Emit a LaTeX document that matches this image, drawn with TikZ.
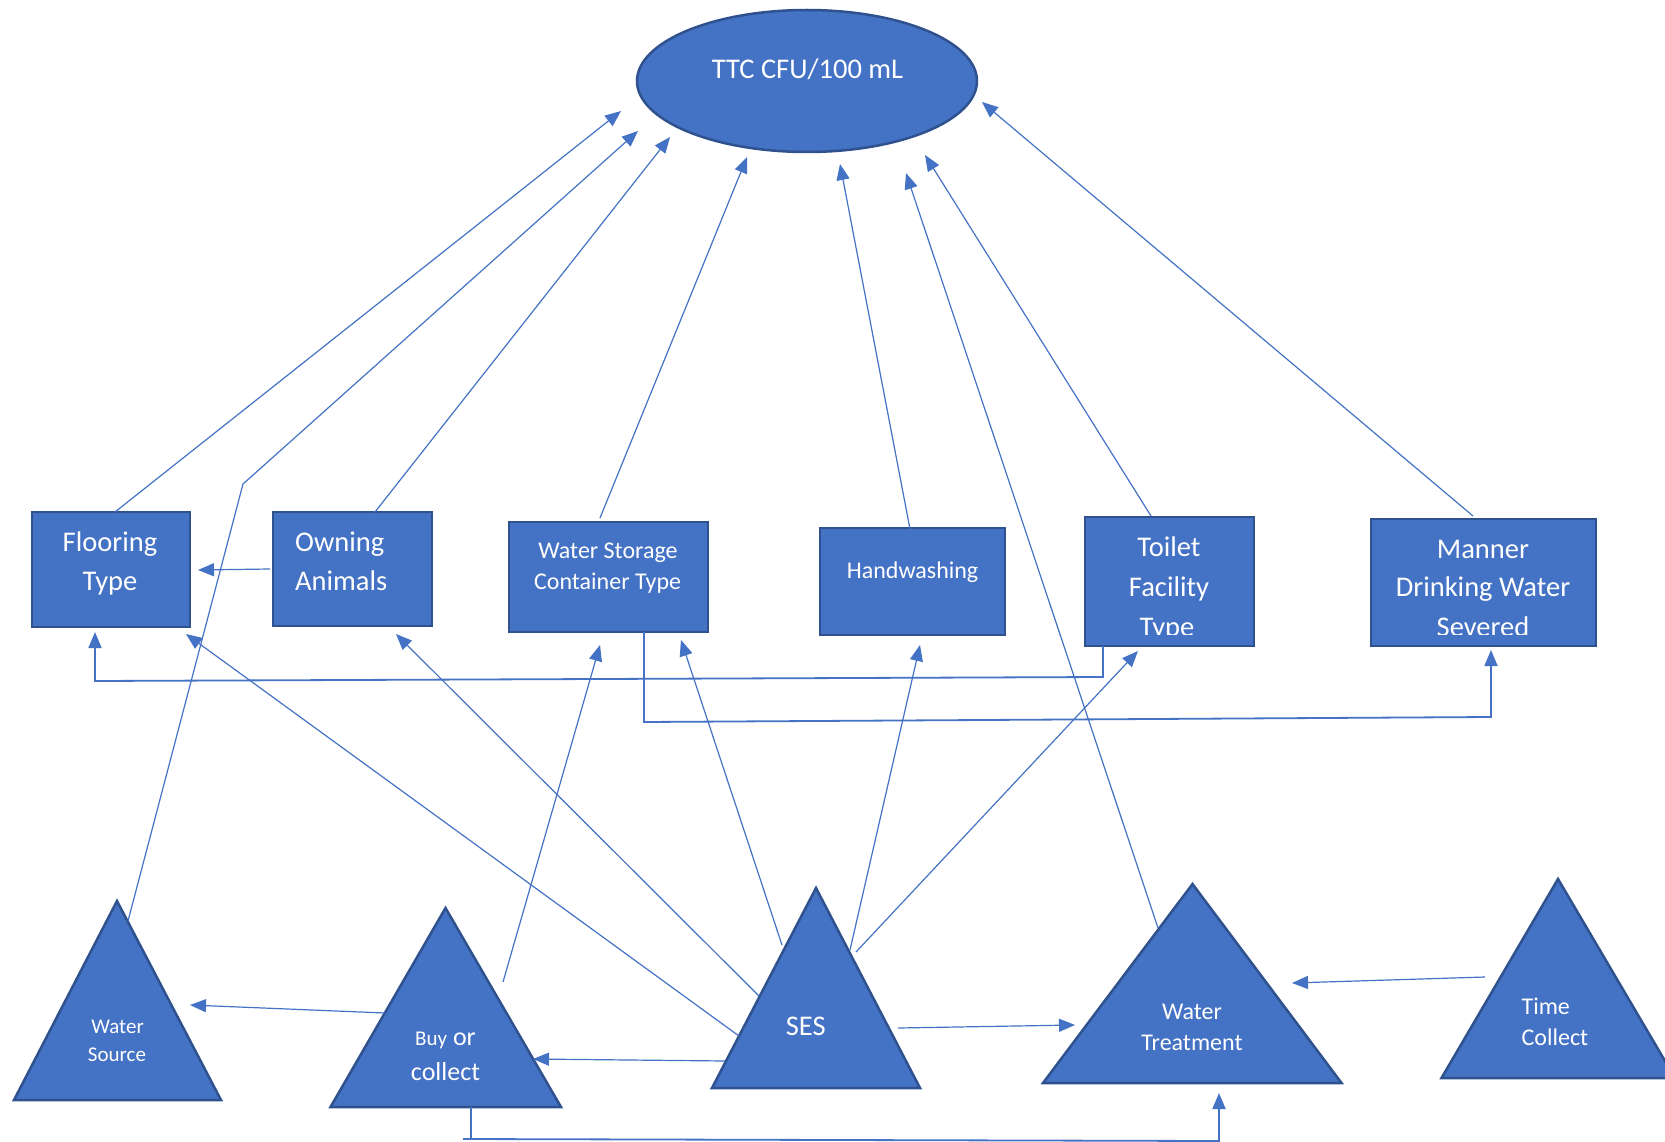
\documentclass[tikz,border=0pt]{standalone}
\usepackage{fontspec}
\setmainfont{Carlito}
\usetikzlibrary{arrows.meta,shapes.geometric}
\definecolor{obl}{HTML}{4472C4}
\definecolor{obd}{HTML}{2F528F}
\begin{document}
\begin{tikzpicture}[x=1pt,y=-1pt,
  box/.style={draw=obd,line width=2.5pt,fill=obl,inner sep=0pt,outer sep=0pt},
  tri/.style={draw=obd,line width=2.5pt,fill=obl,line join=miter},
  lbl/.style={text=white,inner sep=0pt,anchor=base,font=\fontsize{28.5}{34}\selectfont},
  lblm/.style={lbl,font=\fontsize{24}{29}\selectfont},
  lbls/.style={lbl,font=\fontsize{21}{26}\selectfont},
  conn/.style={draw=obl,line width=1.2pt,-{Triangle[length=16pt,width=13pt]}},
  elb/.style={conn,line width=1.8pt},
  plain/.style={draw=obl,line width=1.8pt}]
\useasboundingbox (0,0) rectangle (1665,1142);
\clip (0,0) rectangle (1665,1142);
\fill[white] (0,0) rectangle (1665,1142);

% ---- target ellipse
\node (ttc) [ellipse,draw=obd,fill=obl,line width=2.5pt,minimum width=340pt,minimum height=142pt,inner sep=0pt] at (807,81) {};
\node (ttct) [lbl] at (807.5,79) {TTC CFU/100 mL};

% ---- boxes
\node (floor) [box,minimum width=158pt,minimum height=115pt] at (111,569.5) {};
\node (own)   [box,minimum width=159pt,minimum height=114pt] at (352.5,569) {};
\node (stor)  [box,minimum width=199pt,minimum height=110pt] at (608.5,577) {};
\node (hand)  [box,minimum width=185pt,minimum height=107pt] at (912.5,581.5) {};
\node (toil)  [box,minimum width=169pt,minimum height=129pt] at (1169.5,581.5) {};
\node (mann)  [box,minimum width=225pt,minimum height=127pt] at (1483.5,582.5) {};

\node (floor1) [lbl] at (110,551.7) {Flooring};
\node (floor2) [lbl] at (110,590) {Type};
\node (own1) [lbl,anchor=base west] at (295,551.7) {Owning};
\node (own2) [lbl,anchor=base west] at (295,590) {Animals};
\node (stor1) [lblm] at (608,558.3) {Water Storage};
\node (stor2) [lblm] at (607.6,589) {Container Type};
\node (hand1) [lblm] at (912.6,578.3) {Handwashing};
\node (toil1) [lbl] at (1169,556.7) {Toilet};
\node (toil2) [lbl] at (1169,596) {Facility};
\node (mann1) [lbl] at (1483,558.3) {Manner};
\node (mann2) [lbl] at (1483,596) {Drinking Water};
\begin{scope}
  \clip (1085,517) rectangle (1254,634);
  \node (toil3) [lbl] at (1167,636) {Type};
\end{scope}
\begin{scope}
  \clip (1371,519) rectangle (1596,634);
  \node (mann3) [lbl] at (1483,636) {Severed};
\end{scope}

% ---- triangles
\draw[tri] (117,901) -- (221,1100) -- (14,1100) -- cycle;
\draw[tri] (445.5,908) -- (561,1107) -- (330.5,1107) -- cycle;
\draw[tri] (816,888) -- (920,1088) -- (712,1088) -- cycle;
\draw[tri] (1192.5,884) -- (1341.5,1083) -- (1043,1083) -- cycle;
\draw[tri] (1558,879) -- (1675,1078) -- (1441.5,1078) -- cycle;

\node (ws1) [lbls] at (117.6,1033.3) {Water};
\node (ws2) [lbls] at (117,1061) {Source};
\node (buy1) [lbl,font=\fontsize{26}{31}\selectfont] at (445.5,1045) {{\fontsize{21}{26}\selectfont Buy} or};
\node (buy2) [lbl,font=\fontsize{26}{31}\selectfont] at (445.5,1080) {collect};
\node (ses1) [lbl] at (805.7,1035.7) {SES};
\node (wt1) [lblm] at (1192,1019.3) {Water};
\node (wt2) [lblm] at (1192,1050) {Treatment};
\node (tc1) [lblm,anchor=base west] at (1521.4,1014) {Time};
\node (tc2) [lblm,anchor=base west] at (1521.4,1045) {Collect};

% ---- connector end points
\coordinate (floorT) at (115,512);
\coordinate (ownT) at (375,512);
\coordinate (storT) at (600,518);
\coordinate (handT) at (910,529);
\coordinate (toilT) at (1151,516);
\coordinate (mannT) at (1473,516);
\coordinate (wtL) at (1158,928);
\coordinate (wsA) at (128,921);
\coordinate (wsBend) at (243,484);

\coordinate (ttc1) at (621,111);
\coordinate (ttc2) at (638,131);
\coordinate (ttc3) at (670,137);
\coordinate (ttc4) at (747,157);
\coordinate (ttc5) at (840,164);
\coordinate (ttc6) at (906,173);
\coordinate (ttc7) at (925,155);
\coordinate (ttc8) at (982,102);

% arrows into TTC
\draw[conn] (floorT) -- (ttc1);
\draw[conn] (wsA) -- (wsBend) -- (ttc2);
\draw[conn] (ownT) -- (ttc3);
\draw[conn] (storT) -- (ttc4);
\draw[conn] (handT) -- (ttc5);
\draw[conn] (wtL) -- (ttc6);
\draw[conn] (toilT) -- (ttc7);
\draw[conn] (mannT) -- (ttc8);

% owning -> flooring
\coordinate (ownL) at (270,569);
\coordinate (floorR) at (198,570);
\draw[conn] (ownL) -- (floorR);

% elbow: toilet -> flooring
\coordinate (toilB) at (1103,646);
\coordinate (floorB) at (95,632);
\draw[elb] (toilB) -- (1103,677) -- (95,681) -- (floorB);

% elbow: storage -> manner
\coordinate (storB) at (644,632);
\coordinate (mannB) at (1491,650);
\draw[elb] (storB) -- (644,722) -- (1491,717) -- (mannB);

% elbow: buy -> water treatment
\coordinate (buyB) at (471,1107);
\coordinate (wtB) at (1219,1093);
\draw[plain] (buyB) -- (471,1140);
\draw[elb] (463,1139) -- (1219,1141) -- (wtB);

% buy -> water source
\coordinate (buyL) at (385,1013);
\coordinate (wsR) at (190,1005);
\draw[conn] (buyL) -- (wsR);

% buy -> storage
\coordinate (buyR) at (503,982);
\coordinate (storB1) at (600,645);
\draw[conn] (buyR) -- (storB1);

% SES connectors
\coordinate (ses1s) at (739,1036);
\coordinate (ses2s) at (759,996);
\coordinate (ses3s) at (782,945);
\coordinate (ses4s) at (850,950);
\coordinate (ses5s) at (856,952);
\coordinate (ses6s) at (725,1061);
\coordinate (ses7s) at (898,1028);
\coordinate (floorB2) at (186,634);
\coordinate (ownB) at (396,634);
\coordinate (storB2) at (681,640);
\coordinate (handB) at (920,645);
\coordinate (toilB2) at (1138,651);
\coordinate (buyR2) at (533,1059);
\coordinate (wtL2) at (1075,1025);
\draw[conn] (ses1s) -- (floorB2);
\draw[conn] (ses2s) -- (ownB);
\draw[conn] (ses3s) -- (storB2);
\draw[conn] (ses4s) -- (handB);
\draw[conn] (ses5s) -- (toilB2);
\draw[conn] (ses6s) -- (buyR2);
\draw[conn] (ses7s) -- (wtL2);

% time collect -> water treatment
\coordinate (tcL) at (1485,977);
\coordinate (wtR) at (1292,983);
\draw[conn] (tcL) -- (wtR);
\end{tikzpicture}
\end{document}
